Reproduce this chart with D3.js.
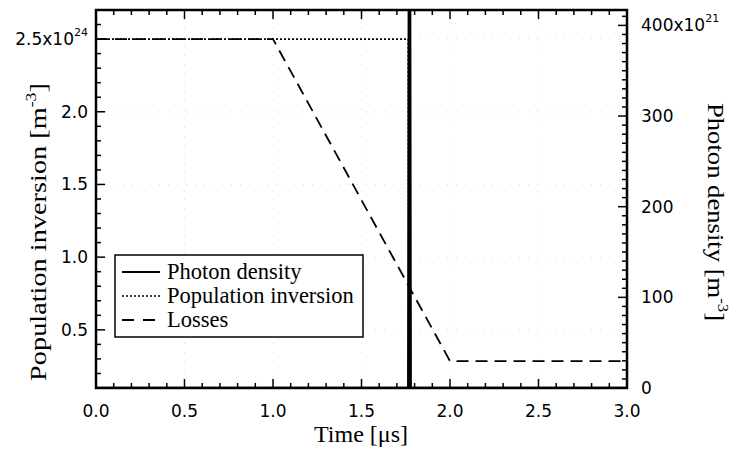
<!DOCTYPE html>
<html>
<head>
<meta charset="utf-8">
<script src="https://cdn.jsdelivr.net/npm/d3@7"></script>
<style>
  body { margin: 0; background: #fff; }
  .tick-label { font-family: "DejaVu Sans", "Liberation Sans", sans-serif; font-size: 17px; fill: #000; }
  .title { font-family: "Liberation Serif", "Times New Roman", serif; font-size: 24px; fill: #000; }
  .legend-text { font-family: "Liberation Serif", "Times New Roman", serif; font-size: 22.5px; fill: #000; }
</style>
</head>
<body>
<svg id="chart" width="736" height="451"></svg>
<script>
// ---> Data
const timeTicks = [0.0, 0.5, 1.0, 1.5, 2.0, 2.5, 3.0];
const leftTicks = [0.5, 1.0, 1.5, 2.0, 2.5];
const leftTickLabels = ["0.5", "1.0", "1.5", "2.0", "2.5x10"];
const rightTicks = [0, 100, 200, 300, 400];
const rightTickLabels = ["0", "100", "200", "300", "400x10"];

// photon density (x10^21 m^-3) vs time (us)
const photonTime = [0, 1.764, 1.771, 1.778, 3.0];
const photonDensity = [0, 0, 900, 0, 0];

// population inversion (x10^24 m^-3)
const inversionTime = [0, 1.764, 1.768, 3.0];
const inversion = [2.5, 2.5, 0.02, 0.02];

// losses (threshold, x10^24 m^-3)
const lossTime = [0, 1.0, 2.0, 3.0];
const losses = [2.5, 2.5, 0.285, 0.285];

const legendItems = ["Photon density", "Population inversion", "Losses"];

// ---> Layout
const svg = d3.select("#chart");
const plotLeft = 96, plotRight = 627, plotTop = 10, plotBottom = 388;

const x = d3.scaleLinear().domain([0, 3]).range([plotLeft, plotRight]);
const yL = d3.scaleLinear().domain([0.1, 2.7]).range([plotBottom, plotTop]);
const yR = d3.scaleLinear().domain([0, 417]).range([plotBottom, plotTop]);

svg.append("defs").append("clipPath").attr("id", "plot-clip")
    .append("rect").attr("x", plotLeft).attr("y", plotTop)
    .attr("width", plotRight - plotLeft).attr("height", plotBottom - plotTop);

// faint dotted grid
const grid = svg.append("g").attr("stroke", "#d0d0d0").attr("stroke-width", 0.8).attr("stroke-dasharray", "1,8");
grid.selectAll("line.gx").data(timeTicks.slice(1, -1)).enter().append("line")
    .attr("x1", d => x(d)).attr("x2", d => x(d)).attr("y1", plotTop).attr("y2", plotBottom);
grid.selectAll("line.gy").data(leftTicks).enter().append("line")
    .attr("x1", plotLeft).attr("x2", plotRight).attr("y1", d => yL(d)).attr("y2", d => yL(d));

// ---> Series
const plot = svg.append("g").attr("clip-path", "url(#plot-clip)");

const leftLine = d3.line().x(d => x(d[0])).y(d => yL(d[1]));
plot.append("path")
    .datum(d3.zip(lossTime, losses))
    .attr("d", leftLine)
    .attr("fill", "none").attr("stroke", "#000").attr("stroke-width", 1.8)
    .attr("stroke-dasharray", "12,7");

plot.append("path")
    .datum(d3.zip(inversionTime, inversion))
    .attr("d", leftLine)
    .attr("fill", "none").attr("stroke", "#000").attr("stroke-width", 1.7)
    .attr("stroke-dasharray", "2,2");

const photonLine = d3.line().x(d => x(d[0])).y(d => yR(d[1]));
plot.append("path")
    .datum(d3.zip(photonTime, photonDensity))
    .attr("d", photonLine)
    .attr("fill", "none").attr("stroke", "#000").attr("stroke-width", 2.4);

// ---> Axes (ticks inward)
const xMinor = d3.range(0, 3.0001, 0.1);
const axisG = svg.append("g").attr("stroke", "#000");

// bottom & top ticks
axisG.selectAll("line.xb").data(xMinor).enter().append("line")
    .attr("x1", d => x(d)).attr("x2", d => x(d))
    .attr("y1", plotBottom).attr("y2", (d, i) => plotBottom - (i % 5 === 0 ? 9 : 5))
    .attr("stroke-width", 1.5);
axisG.selectAll("line.xt").data(xMinor).enter().append("line")
    .attr("x1", d => x(d)).attr("x2", d => x(d))
    .attr("y1", plotTop).attr("y2", (d, i) => plotTop + (i % 5 === 0 ? 9 : 5))
    .attr("stroke-width", 1.5);

// left ticks
const yLMinor = d3.range(0.1, 2.7001, 0.1);
axisG.selectAll("line.yl").data(yLMinor).enter().append("line")
    .attr("x1", plotLeft).attr("x2", d => plotLeft + (Math.abs(d * 2 - Math.round(d * 2)) < 1e-6 ? 9 : 5))
    .attr("y1", d => yL(d)).attr("y2", d => yL(d))
    .attr("stroke-width", 1.5);

// right ticks
const yRMinor = d3.range(0, 411, 10);
axisG.selectAll("line.yr").data(yRMinor).enter().append("line")
    .attr("x1", plotRight).attr("x2", d => plotRight - (d % 100 === 0 ? 9 : 5))
    .attr("y1", d => yR(d)).attr("y2", d => yR(d))
    .attr("stroke-width", 1.5);

// frame
svg.append("rect")
    .attr("x", plotLeft).attr("y", plotTop)
    .attr("width", plotRight - plotLeft).attr("height", plotBottom - plotTop)
    .attr("fill", "none").attr("stroke", "#000").attr("stroke-width", 2.5);

// tick labels
svg.selectAll("text.xl").data(timeTicks).enter().append("text")
    .attr("class", "tick-label")
    .attr("x", d => x(d)).attr("y", 417)
    .attr("text-anchor", "middle")
    .text(d => d.toFixed(1));

const leftLab = svg.selectAll("text.yll").data(leftTicks).enter().append("text")
    .attr("class", "tick-label")
    .attr("x", 88).attr("y", d => yL(d) + 6)
    .attr("text-anchor", "end");
leftLab.text((d, i) => leftTickLabels[i]);
leftLab.filter((d, i) => i === leftTicks.length - 1)
    .append("tspan").attr("dy", -9).attr("font-size", 11).text("24");

const rightLab = svg.selectAll("text.yrl").data(rightTicks).enter().append("text")
    .attr("class", "tick-label")
    .attr("x", 641).attr("y", d => yR(d) + 6)
    .attr("text-anchor", "start");
rightLab.text((d, i) => rightTickLabels[i]);
rightLab.filter((d, i) => i === rightTicks.length - 1)
    .append("tspan").attr("dy", -9).attr("font-size", 11).text("21");

// axis titles
svg.append("text").attr("class", "title")
    .attr("x", 361).attr("y", 442).attr("text-anchor", "middle")
    .text("Time [μs]");

const lt = svg.append("text").attr("class", "title")
    .attr("transform", "translate(46,232) rotate(-90) scale(1.18,1)")
    .attr("text-anchor", "middle");
lt.append("tspan").text("Population inversion [m");
lt.append("tspan").attr("dy", -10).attr("font-size", 15).text("-3");
lt.append("tspan").attr("dy", 10).text("]");

const rt = svg.append("text").attr("class", "title")
    .attr("transform", "translate(708,212) rotate(90) scale(1.11,1)")
    .attr("text-anchor", "middle");
rt.append("tspan").text("Photon density [m");
rt.append("tspan").attr("dy", -10).attr("font-size", 15).text("-3");
rt.append("tspan").attr("dy", 10).text("]");

// ---> Legend
const legend = svg.append("g");
legend.append("rect")
    .attr("x", 115).attr("y", 255).attr("width", 248).attr("height", 82)
    .attr("fill", "#fff").attr("stroke", "#000").attr("stroke-width", 1.5);

const dashes = [null, "2,2", "12,9"];
const widths = [1.8, 1.5, 1.8];
legendItems.forEach((name, i) => {
    const cy = 272 + i * 24;
    legend.append("line")
        .attr("x1", 122).attr("x2", 160).attr("y1", cy).attr("y2", cy)
        .attr("stroke", "#000").attr("stroke-width", widths[i])
        .attr("stroke-dasharray", dashes[i]);
    legend.append("text").attr("class", "legend-text")
        .attr("x", 167).attr("y", cy + 7)
        .text(name);
});
</script>
</body>
</html>
